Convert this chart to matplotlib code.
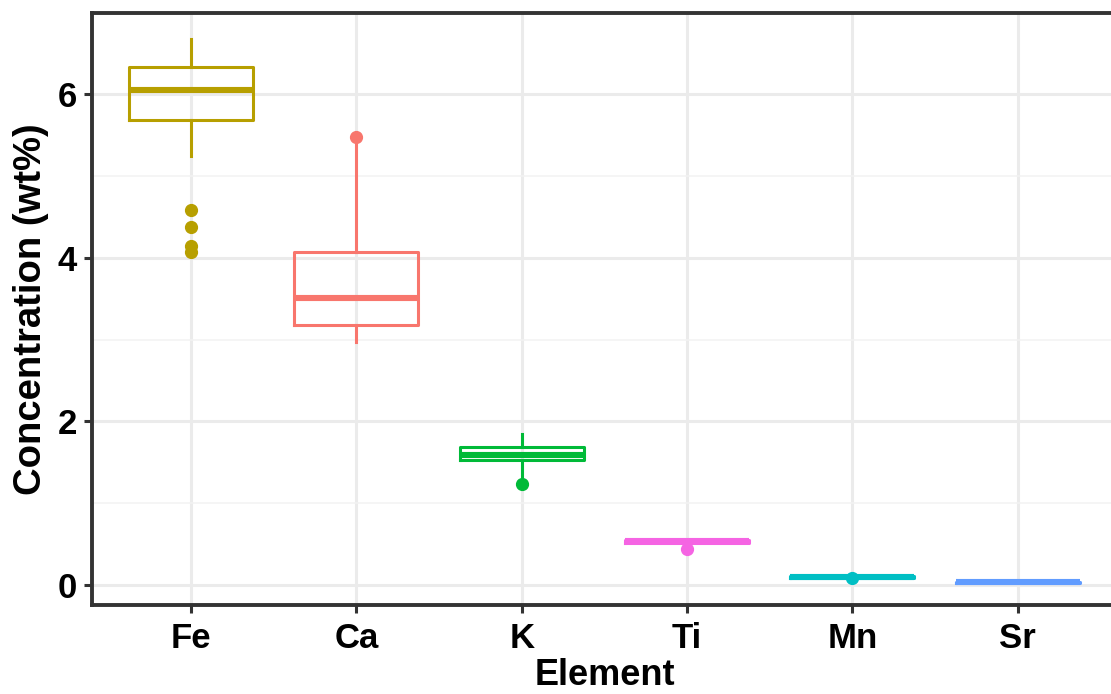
import matplotlib
matplotlib.use("Agg")
import matplotlib.pyplot as plt
from matplotlib.ticker import MultipleLocator

# ── Data ─────────────────────────────────────────────────────────────────────
elements = ["Fe", "Ca", "K", "Ti", "Mn", "Sr"]
colors = ["#B79F00", "#F8766D", "#00BA38", "#F564E3", "#00BFC4", "#619CFF"]
whislo = [5.25, 2.97, 1.28, 0.52, 0.09, 0.03]
q1 = [5.68, 3.18, 1.53, 0.52, 0.09, 0.03]
med = [6.05, 3.51, 1.59, 0.535, 0.10, 0.035]
q3 = [6.33, 4.07, 1.69, 0.55, 0.11, 0.04]
whishi = [6.68, 5.40, 1.85, 0.55, 0.11, 0.04]
outliers = [[4.59, 4.38, 4.15, 4.07], [5.48], [1.23], [0.44], [0.09], []]

plt.rcParams["font.family"] = ["Liberation Sans", "DejaVu Sans"]
plt.rcParams["font.weight"] = "bold"

fig = plt.figure(figsize=(11.11, 6.94), dpi=100)
ax = fig.add_axes([0.0828, 0.128, 0.9225, 0.853])

stats = []
for i, el in enumerate(elements):
    stats.append(dict(label=el, whislo=whislo[i], q1=q1[i], med=med[i],
                      q3=q3[i], whishi=whishi[i], fliers=outliers[i]))

pos = list(range(1, len(elements) + 1))
for i, s in enumerate(stats):
    c = colors[i]
    ax.bxp([s], positions=[pos[i]], widths=0.75, showcaps=False,
           boxprops=dict(color=c, lw=2.2),
           whiskerprops=dict(color=c, lw=2.2),
           medianprops=dict(color=c, lw=4.4, solid_capstyle="butt"),
           flierprops=dict(marker="o", markerfacecolor=c, markeredgecolor=c,
                           markersize=8.5, linestyle="none"),
           manage_ticks=False, zorder=3)

ax.set_xlim(0.4, 6.6)
ax.set_ylim(-0.245, 6.99)
ax.set_xticks(pos)
ax.set_xticklabels(elements)
ax.yaxis.set_major_locator(MultipleLocator(2))
ax.yaxis.set_minor_locator(MultipleLocator(1))

ax.grid(True, which="major", color="#EBEBEB", lw=2.2, zorder=0)
ax.grid(True, which="minor", axis="y", color="#F2F2F2", lw=1.1, zorder=0)
ax.set_axisbelow(True)

for sp in ax.spines.values():
    sp.set_color("#333333")
    sp.set_linewidth(2.8)

ax.tick_params(axis="both", which="major", length=6, width=2.2,
               color="#333333", labelsize=25, labelcolor="black")
ax.tick_params(axis="x", pad=6)
ax.tick_params(axis="y", pad=5)
ax.tick_params(axis="y", which="minor", length=0)

ax.set_xlabel("Element", fontsize=26, fontweight="bold", labelpad=2)
ax.set_ylabel("Concentration (wt%)", fontsize=27.5, fontweight="bold", labelpad=6)

fig.savefig("out.png", dpi=100)
